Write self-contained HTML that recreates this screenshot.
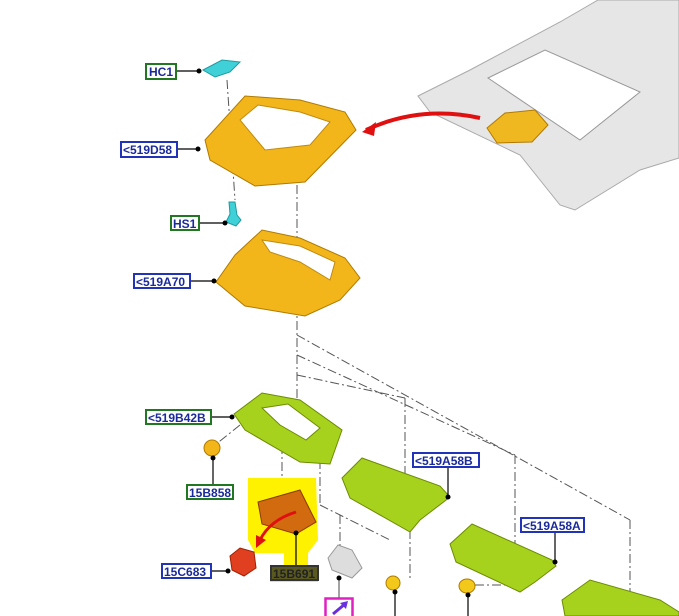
<!DOCTYPE html>
<html><head><style>
html,body{margin:0;padding:0;background:#fff;width:679px;height:616px;overflow:hidden}
svg{display:block}
text{font-family:"Liberation Sans",sans-serif;font-weight:bold;font-size:12px;fill:#1a2a9a}
</style></head><body>
<svg width="679" height="616" viewBox="0 0 679 616" xmlns="http://www.w3.org/2000/svg">
<!-- headliner -->
<polygon points="418,96 470,70 560,22 598,0 679,0 679,158 640,170 575,210 560,205 520,155 430,112" fill="#e6e6e6" stroke="#aaa" stroke-width="1"/>
<polygon points="488,78 545,50 640,92 580,140" fill="#fff" stroke="#999"/>
<polygon points="487,128 505,113 535,110 548,125 532,142 497,143" fill="#f0b820" stroke="#b07a00"/>
<path d="M480,118 Q420,105 366,130" stroke="#e01010" stroke-width="4" fill="none"/>
<polygon points="362,132 376,122 374,136" fill="#e01010"/>
<!-- dash-dot lines -->
<g stroke="#555" stroke-width="1" stroke-dasharray="9,3,2,3" fill="none">
<line x1="297" y1="185" x2="297" y2="410"/>
<line x1="297" y1="335" x2="630" y2="520"/>
<line x1="630" y1="520" x2="630" y2="600"/>
<line x1="297" y1="355" x2="515" y2="455"/>
<line x1="515" y1="455" x2="515" y2="555"/>
<line x1="297" y1="375" x2="405" y2="398"/>
<line x1="405" y1="398" x2="405" y2="475"/>
<line x1="227" y1="80" x2="235" y2="200"/>
<line x1="282" y1="445" x2="282" y2="500"/>
<line x1="320" y1="460" x2="320" y2="505"/>
<line x1="320" y1="505" x2="390" y2="540"/>
<line x1="340" y1="515" x2="340" y2="548"/>
<line x1="240" y1="425" x2="215" y2="445"/>
<line x1="410" y1="530" x2="410" y2="580"/>
<line x1="475" y1="585" x2="520" y2="585"/>
</g>
<!-- HC1 -->
<polygon points="203,70 222,60 240,62 230,72 215,77" fill="#40d0d8" stroke="#209aa0"/>
<!-- 519D58 frame -->
<polygon points="205,140 245,96 300,100 345,112 356,130 305,182 255,186 210,160" fill="#f2b61a" stroke="#b07a00"/>
<polygon points="240,120 258,105 300,112 330,122 310,145 265,150" fill="#fff" stroke="#c08a10"/>
<!-- HS1 -->
<polygon points="229,202 235,202 237,215 241,220 236,226 226,222 230,214" fill="#40d0d8" stroke="#209aa0"/>
<!-- 519A70 -->
<polygon points="216,282 235,255 262,230 300,238 345,258 360,278 340,300 305,316 245,306" fill="#f2b61a" stroke="#b07a00"/>
<polygon points="262,240 300,246 335,262 330,280 300,262 270,252" fill="#fff" stroke="#c08a10"/>
<!-- 519B42B -->
<polygon points="234,414 262,393 300,400 342,430 330,464 300,462 245,430" fill="#a6d21e" stroke="#6c8c00"/>
<polygon points="262,408 288,404 320,428 306,440 280,425" fill="#fff" stroke="#6c8c00"/>
<!-- 15B858 -->
<ellipse cx="212" cy="448" rx="8" ry="8" fill="#f2b61a" stroke="#b07a00"/>
<!-- highlight -->
<path d="M248,478 L316,478 L318,540 L308,553 L308,565 L318,565 L318,582 L270,582 L270,565 L284,565 L284,553 L255,553 L248,540 Z" fill="#fff200"/>
<polygon points="258,502 300,490 316,522 296,534 262,524" fill="#d26a10" stroke="#8a3a00"/>
<path d="M296,512 Q270,520 260,540" stroke="#e01010" stroke-width="3" fill="none"/>
<polygon points="256,548 256,535 266,540" fill="#e01010"/>
<!-- 15C683 -->
<polygon points="230,556 240,548 254,552 256,568 244,576 232,570" fill="#e04020" stroke="#a02000"/>
<!-- gray part -->
<polygon points="328,558 338,545 352,550 362,568 352,578 332,570" fill="#ddd" stroke="#999"/>
<!-- magenta box -->
<rect x="325.5" y="598.5" width="27" height="20" fill="#fff" stroke="#e020c0" stroke-width="2.5"/>
<path d="M333,614 L345,604" stroke="#6a30e0" stroke-width="3"/>
<polygon points="348,601 340,603 346,609" fill="#6a30e0"/>
<!-- 519A58B -->
<polygon points="342,478 362,458 440,486 450,497 420,520 410,532 350,498" fill="#a6d21e" stroke="#6c8c00"/>
<!-- 519A58A -->
<polygon points="450,544 472,524 552,560 556,566 535,582 520,592 456,562" fill="#a6d21e" stroke="#6c8c00"/>
<!-- bottom right part -->
<polygon points="562,600 590,580 660,600 679,612 679,616 565,616" fill="#a6d21e" stroke="#6c8c00"/>
<ellipse cx="393" cy="583" rx="7" ry="7" fill="#f2c81a" stroke="#b07a00"/>
<ellipse cx="467" cy="586" rx="8" ry="7" fill="#f2c81a" stroke="#b07a00"/>
<!-- leader lines -->
<g stroke="#000" stroke-width="1.2">
<line x1="176" y1="71" x2="199" y2="71"/>
<line x1="177" y1="149" x2="198" y2="149"/>
<line x1="199" y1="223" x2="225" y2="223"/>
<line x1="190" y1="281" x2="214" y2="281"/>
<line x1="211" y1="417" x2="232" y2="417"/>
<line x1="213" y1="458" x2="213" y2="485"/>
<line x1="211" y1="571" x2="228" y2="571"/>
<line x1="296" y1="533" x2="296" y2="565"/>
<line x1="339" y1="578" x2="339" y2="598" stroke="#666"/>
<line x1="448" y1="467" x2="448" y2="497"/>
<line x1="555" y1="532" x2="555" y2="562"/>
<line x1="395" y1="592" x2="395" y2="616"/>
<line x1="468" y1="595" x2="468" y2="616"/>
</g>
<g fill="#000">
<circle cx="199" cy="71" r="2.5"/><circle cx="198" cy="149" r="2.5"/><circle cx="225" cy="223" r="2.5"/>
<circle cx="214" cy="281" r="2.5"/><circle cx="232" cy="417" r="2.5"/><circle cx="213" cy="458" r="2.5"/>
<circle cx="228" cy="571" r="2.5"/><circle cx="296" cy="533" r="2.5"/><circle cx="339" cy="578" r="2.5"/>
<circle cx="448" cy="497" r="2.5"/><circle cx="555" cy="562" r="2.5"/><circle cx="395" cy="592" r="2.5"/><circle cx="468" cy="595" r="2.5"/>
</g>
<!-- labels -->
<g fill="#fff" stroke-width="2">
<rect x="146" y="64" width="30" height="15" stroke="#227722"/>
<rect x="121" y="142" width="56" height="15" stroke="#2233bb"/>
<rect x="171" y="216" width="28" height="14" stroke="#227722"/>
<rect x="134" y="274" width="56" height="14" stroke="#2233bb"/>
<rect x="146" y="410" width="65" height="14" stroke="#227722"/>
<rect x="187" y="485" width="46" height="14" stroke="#227722"/>
<rect x="162" y="564" width="49" height="14" stroke="#2233bb"/>
<rect x="271" y="566" width="47" height="14" stroke="#333" fill="#5a5a20"/>
<rect x="413" y="453" width="66" height="14" stroke="#2233bb"/>
<rect x="521" y="518" width="63" height="14" stroke="#2233bb"/>
</g>
<text x="149" y="76">HC1</text>
<text x="123" y="154">&lt;519D58</text>
<text x="173" y="228">HS1</text>
<text x="136" y="286">&lt;519A70</text>
<text x="148" y="422">&lt;519B42B</text>
<text x="189" y="497">15B858</text>
<text x="164" y="576">15C683</text>
<text x="273" y="578" style="fill:#222">15B691</text>
<text x="415" y="465">&lt;519A58B</text>
<text x="523" y="530">&lt;519A58A</text>
</svg>
</body></html>
